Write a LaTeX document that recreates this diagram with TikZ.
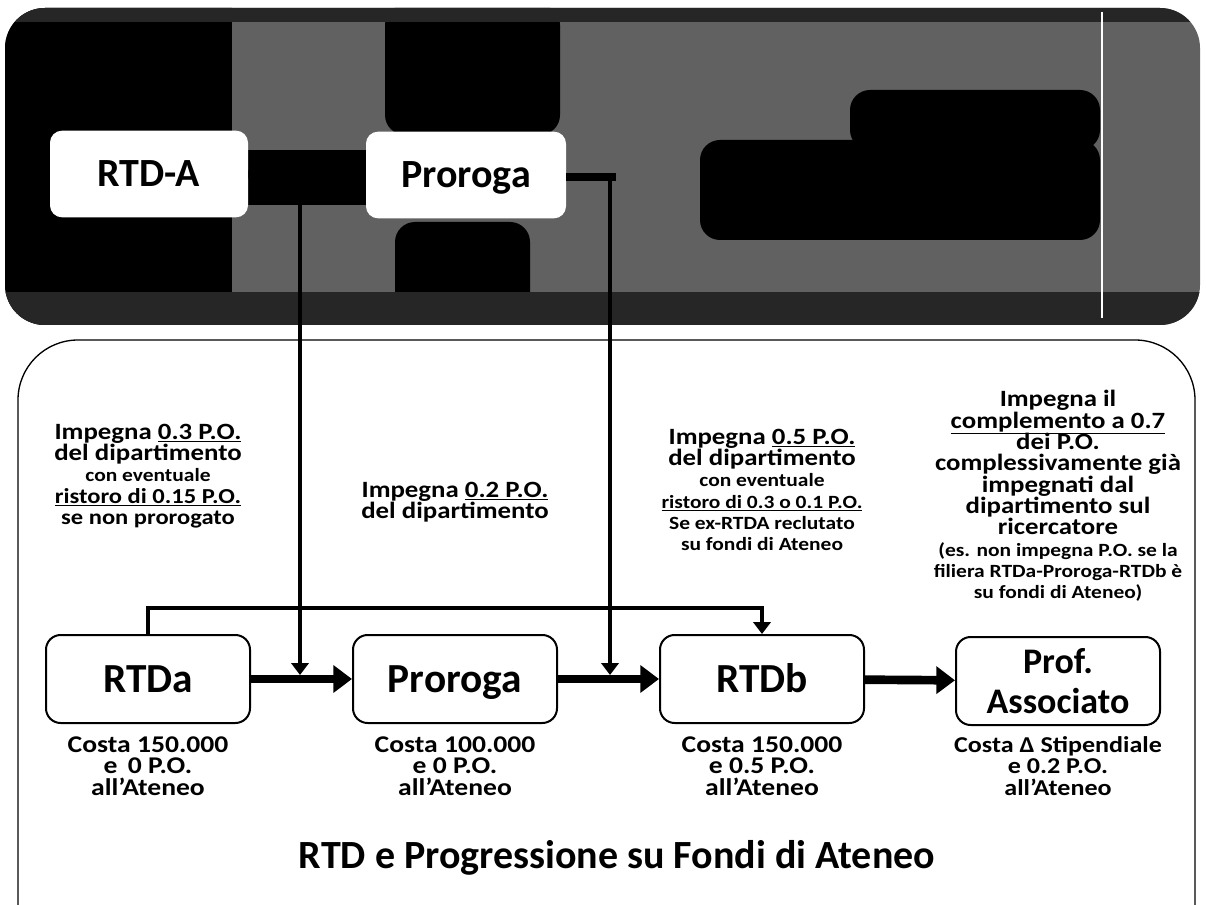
\documentclass[tikz,border=0pt]{standalone}
\usepackage{fontspec}
\setmainfont{Carlito}
\newfontfamily\notefont{Carlito}[FakeStretch=1.15,Ligatures=TeX]
\usetikzlibrary{arrows.meta}
\newcommand\smallnote{\fontsize{14}{16}\selectfont}
\newcommand\midnote{\fontsize{16}{16}\selectfont}
\begin{document}
\lineskiplimit=-40pt
\begin{tikzpicture}[x=0.75pt,y=-0.75pt,
  topbox/.style={fill=white, rounded corners=9pt, minimum width=148.5pt, minimum height=65pt, inner sep=0pt, text height=19pt, text depth=0pt, font=\bfseries\fontsize{30}{32}\selectfont},
  stagebox/.style={draw=black, line width=1.5pt, fill=white, rounded corners=11pt, minimum width=153pt, minimum height=66pt, inner sep=0pt, align=center},
  oneline/.style={text height=19.5pt, text depth=0pt, font=\bfseries\fontsize{31}{32}\selectfont},
  flow/.style={line width=6.5pt, -{Triangle[length=14pt,width=20pt]}},
  feed/.style={line width=3.4pt, -{Triangle[length=9pt,width=13pt]}},
  note/.style={align=center, inner sep=0pt, font=\notefont\bfseries\fontsize{17.5}{16}\selectfont},
  costnote/.style={align=center, inner sep=0pt, font=\notefont\bfseries\fontsize{18}{16.2}\selectfont},
  panelblob/.style={fill=black, rounded corners=15pt}]
\useasboundingbox (0,0) rectangle (1206,905);
\clip (0,0) rectangle (1206,905);
\fill[white] (0,0) rectangle (1206,905);

% top dark panel
\fill[black!62, rounded corners=30pt] (5,8) rectangle (1200,325);
\begin{scope}
  \clip[rounded corners=30pt] (5,8) rectangle (1200,325);
  \fill[black] (0,0) rectangle (232,330);
  \fill[panelblob] (385,5) rectangle (560,135);
  \fill[panelblob] (395,222) rectangle (530,330);
  \fill[panelblob] (700,140) rectangle (1100,240);
  \fill[panelblob] (850,90) rectangle (1100,150);
  \fill[black!85] (0,292) rectangle (1206,330);
  \fill[black!85] (0,0) rectangle (1206,22);
  \fill[black] (225,150) rectangle (375,205);
\end{scope}
\draw[white, line width=1.2pt] (1102,12) -- (1102,318);

% bottom light panel
\draw[line width=1pt, fill=white, rounded corners=45pt] (18,340) rectangle (1195,980);

% top boxes
\node[topbox] (rtdA) at (149,174) {RTD-A};
\node[topbox, minimum width=150pt] (proA) at (466,175) {Proroga};
\coordinate (topend) at (616,177);
\draw[line width=6pt] (rtdA) -- (proA);
\draw[line width=6pt] (proA.east |- topend) -- (topend);

% stage boxes
\node[stagebox, oneline] (rtda) at (148,679) {RTDa};
\node[stagebox, oneline] (pror) at (455,679) {Proroga};
\node[stagebox, oneline] (rtdb) at (762,679) {RTDb};
\node[stagebox, font=\bfseries\fontsize{27}{30}\selectfont] (prof) at (1058,681) {Prof.\\Associato};

% bypass RTDa -> RTDb
\draw[feed] (rtda.north) -- ++(0,-26) -| (rtdb.north);

% feeds from top
\coordinate (f1top) at (300,177);
\coordinate (f1end) at (300,675);
\coordinate (f2top) at (610,177);
\coordinate (f2end) at (610,675);
\draw[feed] (f1top) -- (f1end);
\draw[feed] (f2top) -- (f2end);

% flow arrows
\draw[flow] (rtda) -- (pror);
\draw[flow] (pror) -- (rtdb);
\draw[flow] (rtdb) -- (prof);

% annotations
\node[note] (n1) at (148,476) {Impegna \underline{0.3 P.O.}\\del dipartimento\\\smallnote con eventuale\\\midnote \underline{ristoro di 0.15 P.O.}\\\midnote se non prorogato};
\node[note] (n2) at (455,502) {Impegna \underline{0.2 P.O.}\\del dipartimento};
\node[note] (n3) at (762,490) {Impegna \underline{0.5 P.O.}\\del dipartimento\\\smallnote con eventuale\\\smallnote \underline{ristoro di 0.3 o 0.1 P.O.}\\\smallnote Se ex-RTDA reclutato\\\smallnote su fondi di Ateneo};
\node[note] (n4) at (1058,496) {Impegna il\\\underline{complemento a 0.7}\\dei P.O.\\complessivamente già\\impegnati dal\\dipartimento sul\\ricercatore\\\smallnote (es. non impegna P.O. se la\\\smallnote filiera RTDa-Proroga-RTDb è\\\smallnote su fondi di Ateneo)};

% cost notes
\node[costnote] (c1) at (148,766) {Costa 150.000\\e\, 0 P.O.\\all’Ateneo};
\node[costnote] (c2) at (455,766) {Costa 100.000\\e 0 P.O.\\all’Ateneo};
\node[costnote] (c3) at (762,766) {Costa 150.000\\e 0.5 P.O.\\all’Ateneo};
\node[costnote, font=\notefont\bfseries\fontsize{17}{16.2}\selectfont] (c4) at (1058,766) {Costa Δ Stipendiale\\e 0.2 P.O.\\all’Ateneo};

% title
\node[font=\bfseries\fontsize{30}{32}\selectfont] (title) at (617,858) {RTD e Progressione su Fondi di Ateneo};
\end{tikzpicture}
\end{document}
